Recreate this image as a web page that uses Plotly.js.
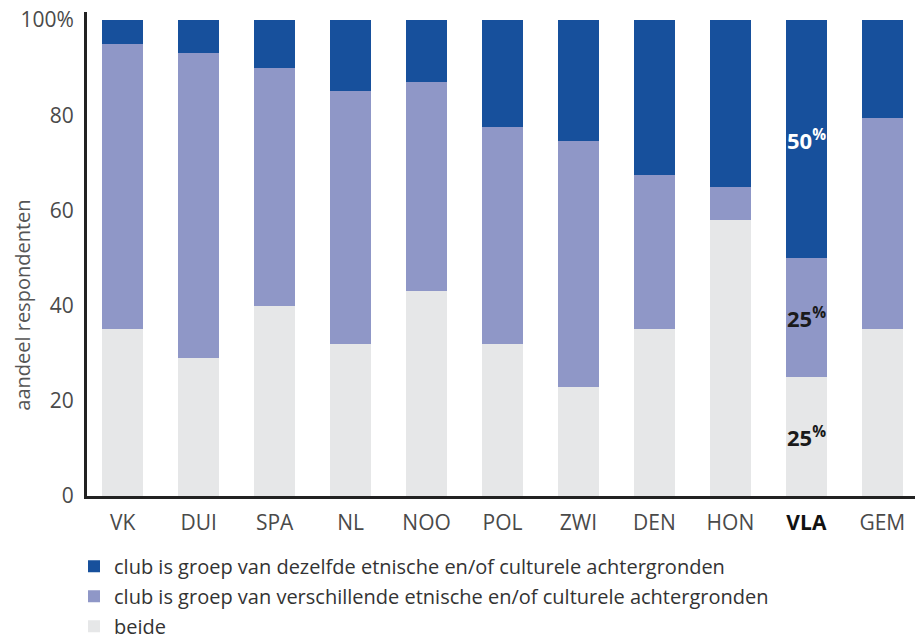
<!DOCTYPE html>
<html>
<head>
<meta charset="utf-8">
<script src="https://cdn.plot.ly/plotly-3.0.1.min.js"></script>
<style>html,body{margin:0;padding:0;background:#fff;}#chart{width:915px;height:639px;}</style>
</head>
<body>
<div id="chart"></div>
<script>
// Data
var categories = ['VK','DUI','SPA','NL','NOO','POL','ZWI','DEN','HON','VLA','GEM'];
var highlight = 'VLA';
var beide        = [35, 29, 40, 32, 43, 32, 23, 35, 58, 25, 35];
var verschillend = [60, 64, 50, 53, 44, 45.5, 51.5, 32.5, 7, 25, 44.5];
var dezelfde     = [5, 7, 10, 15, 13, 22.5, 25.5, 32.5, 35, 50, 20.5];
var seriesNames = [
  'club is groep van dezelfde etnische en/of culturele achtergronden',
  'club is groep van verschillende etnische en/of culturele achtergronden',
  'beide'
];
var yTickVals = [0, 20, 40, 60, 80, 100];
var yTickText = ['0', '20', '40', '60', '80', '100%'];
var yTitle = 'aandeel respondenten';

var colDark = '#17509c', colMid = '#8f97c7', colLight = '#e6e7e8';
var barW = 0.54;
var FONT = '"Open Sans", sans-serif';

var traces = [
  {type:'bar', x:categories, y:beide, name:seriesNames[2], marker:{color:colLight}, width:barW, legendgroup:'c', legendrank:3, hoverinfo:'skip'},
  {type:'bar', x:categories, y:verschillend, name:seriesNames[1], marker:{color:colMid}, width:barW, legendgroup:'b', legendrank:2, hoverinfo:'skip'},
  {type:'bar', x:categories, y:dezelfde, name:seriesNames[0], marker:{color:colDark}, width:barW, legendgroup:'a', legendrank:1, hoverinfo:'skip'}
];

var hi = categories.indexOf(highlight);
var tickText = categories.map(function(c){ return c === highlight ? '<b><span style="color:#111">'+c+'</span></b>' : c; });

function pctLabel(v){ return '<b>' + Math.round(v) + '<sup>%</sup></b>'; }
var annFont = {family:FONT, size:22};
var annotations = [
  {x:categories[hi], y:beide[hi]+verschillend[hi]+dezelfde[hi]/2, xref:'x', yref:'y', text:pctLabel(dezelfde[hi]), showarrow:false, font:Object.assign({color:'#ffffff'}, annFont)},
  {x:categories[hi], y:beide[hi]+verschillend[hi]/2, xref:'x', yref:'y', text:pctLabel(verschillend[hi]), showarrow:false, font:Object.assign({color:'#1a1a1a'}, annFont)},
  {x:categories[hi], y:beide[hi]/2, xref:'x', yref:'y', text:pctLabel(beide[hi]), showarrow:false, font:Object.assign({color:'#1a1a1a'}, annFont)},
  {x:-0.078, y:0.394, xref:'paper', yref:'paper', xanchor:'center', yanchor:'middle', text:yTitle, textangle:-90, showarrow:false, font:{family:FONT, size:20, color:'#555'}}
];

var layout = {
  width:915, height:639,
  margin:{l:87, r:0, t:12, b:143, autoexpand:false},
  paper_bgcolor:'#fff', plot_bgcolor:'#fff',
  barmode:'stack',
  showlegend:true,
  legend:{orientation:'v', x:-0.0157, y:-0.105, xanchor:'left', yanchor:'top',
          traceorder:'grouped', tracegroupgap:1,
          font:{family:FONT, size:20, color:'#333'}},
  xaxis:{type:'category', range:[-0.47, 10.43], tickvals:categories, ticktext:tickText,
         showline:true, linecolor:'#222', linewidth:3, layer:'below traces',
         ticks:'', showgrid:false, zeroline:false, ticklabelstandoff:6,
         tickfont:{family:FONT, size:21, color:'#4a4a4a'}},
  yaxis:{range:[0, 101.7], tickvals:yTickVals, ticktext:yTickText,
         showline:true, linecolor:'#222', linewidth:3, layer:'below traces',
         ticks:'', showgrid:false, zeroline:false, ticklabelstandoff:6,
         tickfont:{family:FONT, size:21, color:'#4a4a4a'}},
  annotations:annotations
};

Plotly.newPlot('chart', traces, layout, {displayModeBar:false, staticPlot:true});
</script>
</body>
</html>
